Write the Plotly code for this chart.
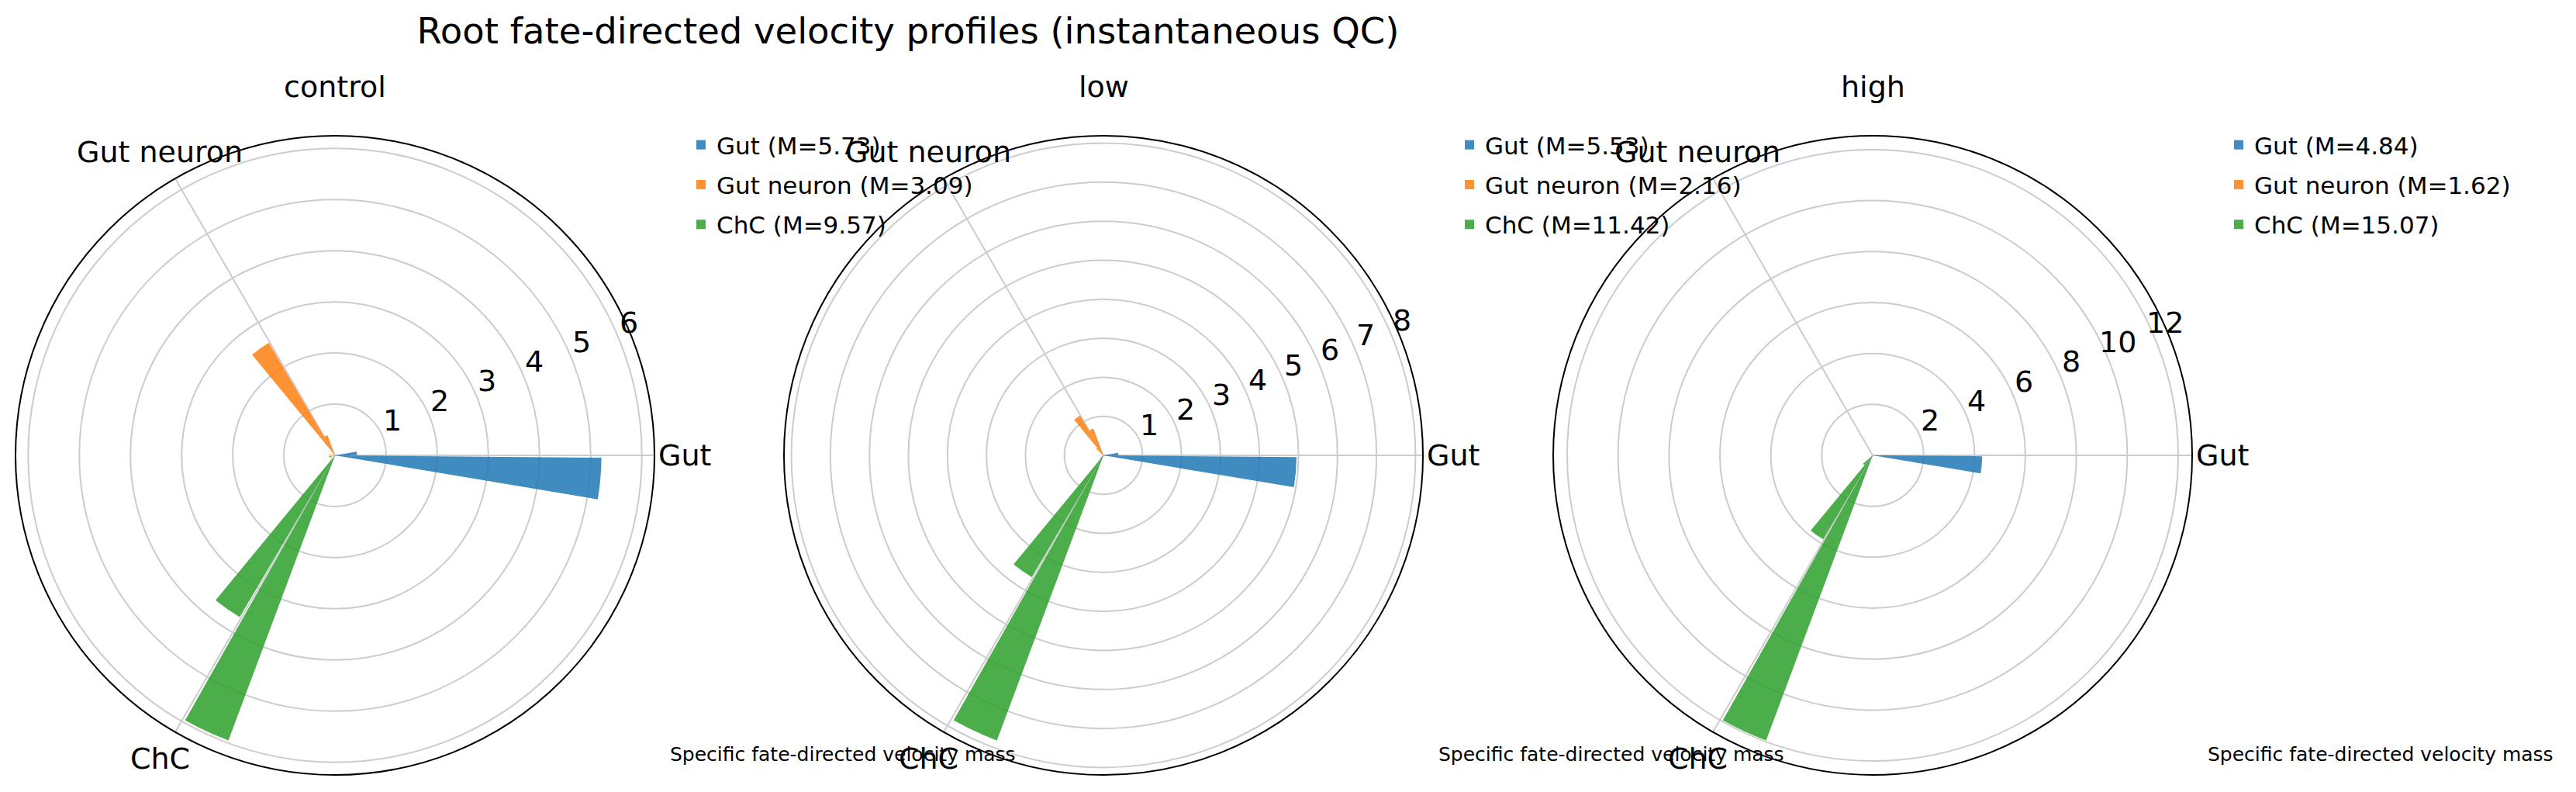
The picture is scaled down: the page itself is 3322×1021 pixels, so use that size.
import numpy as np
import plotly.graph_objects as go

# ---------------- data ----------------
conditions = ["control", "low", "high"]
fates = ["Gut", "Gut neuron", "ChC"]
fate_angles = [0, 120, 240]
colors = ["#1f77b4", "#ff7f0e", "#2ca02c"]
bar_colors = ["rgba(31,119,180,0.85)", "rgba(255,127,14,0.85)", "rgba(44,160,44,0.85)"]

# angular bin centres (degrees) used by each fate
gut_theta = [5, 355]
gut_neuron_theta = [115, 125, 135, 175]
chc_theta = [195, 225, 235, 245]

# bar heights (fate-directed velocity mass per angular bin)
control_gut = [0.43, 5.21]
control_gut_neuron = [0.42, 2.55, 0.0, 0.12]
control_chc = [0.12, 0.0, 3.67, 5.95]

low_gut = [0.38, 4.95]
low_gut_neuron = [0.73, 1.18, 0.25, 0.0]
low_chc = [0.0, 0.10, 3.62, 7.80]

high_gut = [0.0, 4.30]
high_gut_neuron = [0.0, 0.0, 0.0, 0.0]
high_chc = [0.0, 0.50, 3.83, 11.95]

# legend masses M
control_mass = [5.73, 3.09, 9.57]
low_mass = [5.53, 2.16, 11.42]
high_mass = [4.84, 1.62, 15.07]

radial_steps = [1, 1, 2]

title_text = "Root fate-directed velocity profiles (instantaneous QC)"
footer_text = "Specific fate-directed velocity mass"

# ---------------- layout constants ----------------
W, H = 3322, 1021
centers_px = [432, 1423, 2415]
cy_px = 587
R_px = 412
LABEL_PAD = 1.095          # fate labels sit just outside the rim
RLABEL_ANGLE = 22.5        # matplotlib default radial-label angle
RLABEL_OFFSET = (13, 20)   # px offset (right, up) of radial tick labels
FONT = "DejaVu Sans"

thetas = [gut_theta, gut_neuron_theta, chc_theta]
values = {
    "control": [control_gut, control_gut_neuron, control_chc],
    "low": [low_gut, low_gut_neuron, low_chc],
    "high": [high_gut, high_gut_neuron, high_chc],
}
masses = {"control": control_mass, "low": low_mass, "high": high_mass}

fig = go.Figure()
annotations = []

for i, cond in enumerate(conditions):
    pname = "polar" if i == 0 else f"polar{i+1}"
    lname = "legend" if i == 0 else f"legend{i+1}"
    for j, fate in enumerate(fates):
        fig.add_trace(go.Barpolar(
            r=values[cond][j], theta=thetas[j], width=9,
            name=f"{fate} (M={masses[cond][j]:.2f})",
            marker=dict(color=bar_colors[j], line=dict(width=0)),
            subplot=pname, legend=lname, legendgroup=f"{cond}-{fate}",
        ))
    allv = np.concatenate([np.asarray(v, float) for v in values[cond]])
    rmax = 1.05 * allv.max()
    step = radial_steps[i]
    tickvals = list(np.arange(step, rmax, step))
    cx = centers_px[i]
    dom_x = [(cx - R_px) / W, (cx + R_px) / W]
    ybot = H - cy_px
    dom_y = [(ybot - R_px) / H, (ybot + R_px) / H]
    fig.update_layout(**{
        pname: dict(
            domain=dict(x=dom_x, y=dom_y),
            bgcolor="white",
            radialaxis=dict(
                range=[0, rmax], tickvals=tickvals,
                angle=RLABEL_ANGLE, showticklabels=False,
                showline=False, ticks="",
                gridcolor="#cccccc", gridwidth=2,
            ),
            angularaxis=dict(
                tickvals=fate_angles, ticktext=fates, rotation=0,
                direction="counterclockwise", showline=True, linecolor="black",
                linewidth=2, gridcolor="#cccccc", gridwidth=2, ticks="",
                showticklabels=False,
            ),
        ),
        lname: dict(
            x=(cx + 452) / W, y=1 - 160 / H, xanchor="left", yanchor="top",
            bgcolor="rgba(0,0,0,0)", font=dict(size=31, color="black", family=FONT),
            tracegroupgap=8,
        ),
    })
    # radial tick labels (upright, along the 22.5 deg direction, like matplotlib)
    ra = np.deg2rad(RLABEL_ANGLE)
    for tv in tickvals:
        rp = tv / rmax * R_px
        annotations.append(dict(
            text=f"{tv:g}",
            x=(cx + rp * np.cos(ra) + RLABEL_OFFSET[0]) / W,
            y=(ybot + rp * np.sin(ra) + RLABEL_OFFSET[1]) / H,
            xref="paper", yref="paper", xanchor="center", yanchor="middle",
            showarrow=False, font=dict(size=38, color="black", family=FONT),
        ))
    # angular (fate) labels, centred just outside the rim like matplotlib
    for a, lab in zip(fate_angles, fates):
        ar = np.deg2rad(a)
        annotations.append(dict(
            text=lab,
            x=(cx + R_px * LABEL_PAD * np.cos(ar)) / W,
            y=(ybot + R_px * LABEL_PAD * np.sin(ar)) / H,
            xref="paper", yref="paper", xanchor="center", yanchor="middle",
            showarrow=False, font=dict(size=38, color="black", family=FONT),
        ))
    annotations.append(dict(
        text=cond, x=cx / W, y=1 - 112 / H, xref="paper", yref="paper",
        xanchor="center", yanchor="middle", showarrow=False,
        font=dict(size=38, color="black", family=FONT),
    ))
    annotations.append(dict(
        text=footer_text, x=(cx + 430) / W, y=(H - 972) / H, xref="paper", yref="paper",
        xanchor="left", yanchor="middle", showarrow=False,
        font=dict(size=25, color="black", family=FONT),
    ))

fig.update_layout(
    width=W, height=H,
    margin=dict(l=0, r=0, t=0, b=0),
    paper_bgcolor="white",
    font=dict(family=FONT, color="black"),
    title=dict(text=title_text, x=1171 / W, xanchor="center", y=1 - 40 / H,
               yanchor="middle", font=dict(size=46.5, color="black", family=FONT)),
    annotations=annotations,
    showlegend=True,
)

fig.write_html("out.html")
